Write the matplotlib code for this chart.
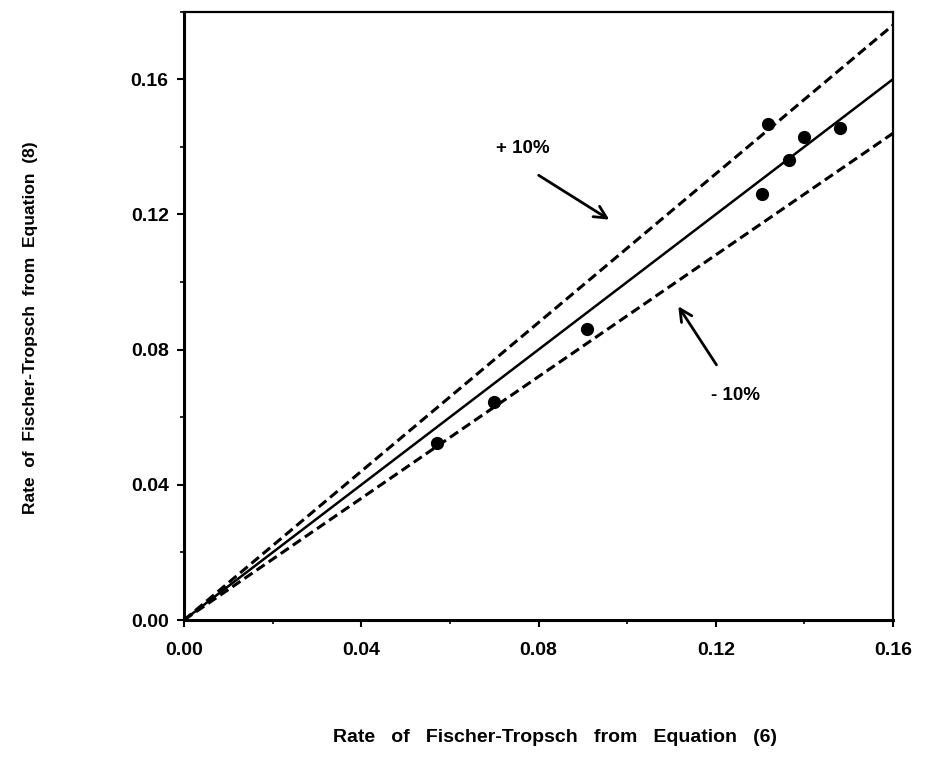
import numpy as np
import matplotlib
matplotlib.use('Agg')
import matplotlib.pyplot as plt
from matplotlib.ticker import MultipleLocator, FormatStrFormatter

# ── data ───────────────────────────────────────────────────────────────────────
rate_eq6 = [0.0572, 0.0700, 0.0910, 0.1305, 0.1318, 0.1365, 0.1400, 0.1480]
rate_eq8 = [0.0525, 0.0645, 0.0862, 0.1260, 0.1468, 0.1362, 0.1428, 0.1455]

parity_x = [0.0, 0.16]
band_factors = [1.1, 0.9]   # +10% / -10% lines

plt.rcParams['font.family'] = ['Liberation Sans', 'DejaVu Sans']

fig = plt.figure(figsize=(9.26, 7.59), dpi=100)
ax = fig.add_axes([0.1987, 0.1831, 0.7657, 0.8017])

px = np.array(parity_x)
ax.plot(px, px, color='black', linewidth=1.8, zorder=2)
for f in band_factors:
    ax.plot(px, f * px, color='black', linewidth=2.2, linestyle=(0, (3.2, 1.6)), zorder=2)

ax.plot(rate_eq6, rate_eq8, 'o', color='black', markersize=8.5, zorder=3)

# annotations
ax.text(0.0765, 0.1395, '+ 10%', fontsize=13.5, fontweight='bold', ha='center', va='center')
ax.annotate('', xy=(0.0965, 0.1180), xytext=(0.0795, 0.1320),
            arrowprops=dict(arrowstyle='->', color='black', lw=2.0, mutation_scale=22))
ax.text(0.1245, 0.0665, '- 10%', fontsize=13.5, fontweight='bold', ha='center', va='center')
ax.annotate('', xy=(0.1112, 0.0935), xytext=(0.1205, 0.0748),
            arrowprops=dict(arrowstyle='->', color='black', lw=2.0, mutation_scale=22))

ax.set_xlim(0, 0.16)
ax.set_ylim(0, 0.18)
ax.xaxis.set_major_locator(MultipleLocator(0.04))
ax.xaxis.set_minor_locator(MultipleLocator(0.02))
ax.yaxis.set_major_locator(MultipleLocator(0.04))
ax.yaxis.set_minor_locator(MultipleLocator(0.02))
ax.xaxis.set_major_formatter(FormatStrFormatter('%.2f'))
ax.yaxis.set_major_formatter(FormatStrFormatter('%.2f'))
ax.tick_params(which='major', direction='out', length=5, width=1.5, labelsize=14)
ax.tick_params(axis='x', which='major', pad=11)
ax.tick_params(axis='y', which='major', pad=6)
ax.tick_params(which='minor', direction='out', length=3, width=1.2)
for lab in ax.get_xticklabels() + ax.get_yticklabels():
    lab.set_fontweight('bold')

for side in ['left', 'bottom']:
    ax.spines[side].set_linewidth(2.2)
for side in ['right', 'top']:
    ax.spines[side].set_linewidth(1.6)

fig.text(0.599, 0.028, 'Rate   of   Fischer-Tropsch   from   Equation   (6)',
         ha='center', va='center', fontsize=14, fontweight='bold')
fig.text(0.033, 0.568, 'Rate  of  Fischer-Tropsch  from  Equation  (8)',
         ha='center', va='center', rotation=90, fontsize=12.5, fontweight='bold')

fig.savefig('out.png', dpi=100)
